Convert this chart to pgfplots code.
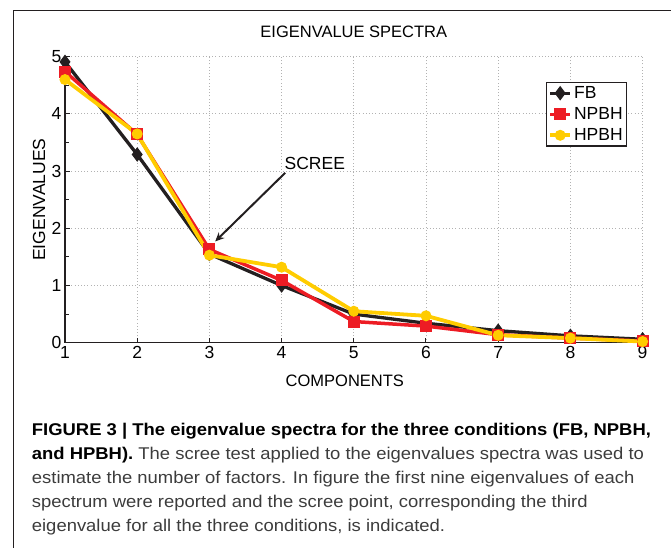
\documentclass[border=0pt]{standalone}
\usepackage{pgfplots}
\pgfplotsset{compat=1.18}
\usepackage{fontspec}
\setmainfont{Liberation Sans}
\newfontfamily\capfont{Liberation Sans}[FakeStretch=1.085]
\usetikzlibrary{arrows.meta}
\definecolor{cblack}{HTML}{231F20}
\definecolor{cred}{HTML}{ED1C24}
\definecolor{cyellow}{HTML}{FFCC00}
\definecolor{capgray}{HTML}{3C3C3C}
\begin{document}
\begin{tikzpicture}
\path[use as bounding box] (-65pt,-205.3pt) rectangle (606pt,342.7pt);
% outer frame
\draw[cblack, line width=1.5pt] (-51.3pt,-210pt) -- (-51.3pt,332pt) -- (610pt,332pt);
\begin{axis}[
  scale only axis,
  width=577.6pt, height=286pt,
  xmin=1, xmax=9, ymin=0, ymax=5,
  xtick={1,2,3,4,5,6,7,8,9},
  ytick={0,1,2,3,4,5},
  minor y tick num=1,
  axis x line*=bottom, axis y line*=left,
  axis line style={cblack, line width=1.3pt},
  tick align=inside,
  major tick length=5pt, minor tick length=4pt,
  tick style={cblack, line width=1pt},
  grid=major,
  major grid style={gray!60, line width=0.8pt, dash pattern=on 0.8pt off 2.4pt},
  clip=false,
  /pgf/number format/assume math mode=true,
  ticklabel style={font=\fontsize{17.5}{17.5}\selectfont},
  title={EIGENVALUE SPECTRA},
  title style={font=\fontsize{16.5}{16.5}\selectfont, at={(0.5,1)}, anchor=base, yshift=13.4pt},
  xlabel={COMPONENTS},
  xlabel style={font=\fontsize{16.5}{16.5}\selectfont, at={(axis description cs:0.5,0)}, anchor=base, yshift=-44pt, xshift=-9pt},
  ylabel={EIGENVALUES},
  ylabel style={font=\fontsize{17.5}{17.5}\selectfont, at={(axis description cs:-0.0346,0.5)}, anchor=base},
  legend style={at={(0.832,0.9126)}, anchor=north west, draw=cblack, line width=1.5pt,
    font=\fontsize{17.5}{21}\selectfont, inner xsep=2pt, inner ysep=2pt, row sep=3.5pt,
    /tikz/every even column/.append style={column sep=0pt}},
  legend cell align=left,
  legend image code/.code={\draw[mark repeat=2,mark phase=2] plot coordinates {(0pt,0pt) (10pt,0pt) (20pt,0pt)};},
]
\addplot[cblack, line width=3.3pt, mark=diamond*, mark size=6.5pt, mark options={solid, fill=cblack, line width=1pt}]
  coordinates {(1,4.91) (2,3.29) (3,1.55) (4,1.00) (5,0.50) (6,0.34) (7,0.21) (8,0.12) (9,0.06)};
\addlegendentry{FB}
\addplot[cred, line width=3.5pt, mark=square*, mark size=5.5pt, mark options={solid, fill=cred, line width=1pt}]
  coordinates {(1,4.74) (2,3.64) (3,1.63) (4,1.09) (5,0.37) (6,0.29) (7,0.14) (8,0.08) (9,0.03)};
\addlegendentry{NPBH}
\addplot[cyellow, line width=3.8pt, mark=*, mark size=5pt, mark options={solid, fill=cyellow, line width=1pt}]
  coordinates {(1,4.60) (2,3.65) (3,1.53) (4,1.32) (5,0.55) (6,0.47) (7,0.13) (8,0.08) (9,0.02)};
\addlegendentry{HPBH}
\draw[cblack, line width=2pt, -{Stealth[length=9pt,width=8pt]}] (axis cs:4.05,2.97) -- (axis cs:3.08,1.77);
\node[anchor=base west, inner sep=0pt, font=\fontsize{17.5}{17.5}\selectfont] at (axis cs:4.04,3.03) {SCREE};
\end{axis}
% caption
\begin{scope}[every node/.style={anchor=base west, inner sep=0pt, font=\capfont\fontsize{17}{17}\selectfont}]
\node at (-33.3pt,-92.3pt) {\textbf{FIGURE 3 | The eigenvalue spectra for the three conditions (FB, NPBH,}};
\node at (-33.3pt,-116.4pt) {\textbf{and HPBH).} \textcolor{capgray}{The scree test applied to the eigenvalues spectra was used to}};
\node[text=capgray] at (-33.3pt,-140.5pt) {estimate the number of factors. In figure the first nine eigenvalues of each};
\node[text=capgray] at (-33.3pt,-164.6pt) {spectrum were reported and the scree point, corresponding the third};
\node[text=capgray] at (-33.3pt,-188.7pt) {eigenvalue for all the three conditions, is indicated.};
\end{scope}
\end{tikzpicture}
\end{document}
